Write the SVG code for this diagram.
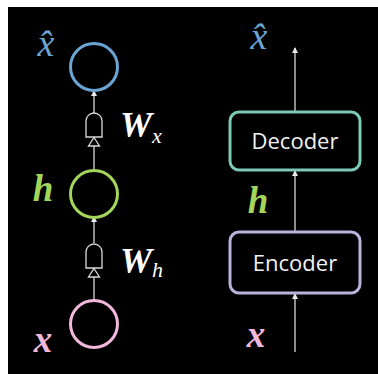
<svg xmlns="http://www.w3.org/2000/svg" width="378" height="374" viewBox="0 0 378 374">
<defs>
<style>
.bg{fill:#000}
.box{fill:#000;stroke-width:3}
.lbl{font-family:"Open Sans","Noto Sans",sans-serif;font-size:22px;fill:#f2f2f2;text-anchor:middle}
.ln{stroke:#d9d9d9;stroke-width:1.3;fill:none}
.gate{stroke:#d9d9d9;stroke-width:1.3;fill:#000}
.node{fill:none;stroke-width:3}
.m{font-family:"Liberation Serif","Times New Roman",serif;font-style:italic;text-anchor:middle}
.mb{font-family:"Liberation Serif","Times New Roman",serif;font-style:italic;font-weight:bold}
</style>
<marker id="ah" viewBox="0 0 6 6" refX="5" refY="3" markerWidth="6" markerHeight="6" markerUnits="userSpaceOnUse" orient="auto">
<path d="M0,0 L6,3 L0,6 Z" fill="#e8e8e8"/>
</marker>
</defs>
<rect x="0" y="0" width="378" height="374" fill="#fff"/>
<rect class="bg" x="8" y="7" width="370" height="367"/>

<g id="connectors">
<line class="ln" x1="94" y1="300" x2="94" y2="277"/>
<line class="ln" x1="94" y1="243" x2="94" y2="217" marker-end="url(#ah)"/>
<line class="ln" x1="94" y1="170" x2="94" y2="146"/>
<line class="ln" x1="94" y1="113" x2="94" y2="91" marker-end="url(#ah)"/>
<line class="ln" x1="295" y1="352" x2="295" y2="294" marker-end="url(#ah)"/>
<line class="ln" x1="295" y1="232" x2="295" y2="171" marker-end="url(#ah)"/>
<line class="ln" x1="295" y1="112" x2="295" y2="48" marker-end="url(#ah)"/>
</g>

<g id="gate-wx">
<path class="gate" d="M86,137 L86,121 A8,8 0 0 1 102,121 L102,137 Z"/>
<path class="gate" d="M94,137.5 L99.5,146 L88.5,146 Z"/>
</g>
<g id="gate-wh">
<path class="gate" d="M86,268 L86,252 A8,8 0 0 1 102,252 L102,268 Z"/>
<path class="gate" d="M94,268.5 L99.5,277 L88.5,277 Z"/>
</g>

<g id="node-xhat">
<circle class="node" cx="94" cy="67" r="23.5" stroke="#6aa5d3"/>
<text class="m" x="46" y="56" font-size="38" fill="#6aa5d3">x̂</text>
</g>
<g id="node-h">
<circle class="node" cx="94" cy="194" r="23.5" stroke="#a3d65a"/>
<text class="mb" x="43" y="201" font-size="37" fill="#a3d65a" text-anchor="middle">h</text>
</g>
<g id="node-x">
<circle class="node" cx="94" cy="324" r="23.5" stroke="#f2b8dc"/>
<text class="mb" x="43" y="352" font-size="37" fill="#f2b8dc" text-anchor="middle">x</text>
</g>

<g id="label-wx">
<text class="mb" x="120" y="137" font-size="36" fill="#fff">W<tspan font-weight="normal" font-size="22" dy="6">x</tspan></text>
</g>
<g id="label-wh">
<text class="mb" x="120" y="273" font-size="36" fill="#fff">W<tspan font-weight="normal" font-size="22" dy="4">h</tspan></text>
</g>

<g id="decoder">
<rect class="box" x="230" y="112" width="130" height="58" rx="9" stroke="#7ccab6"/>
<text class="lbl" x="295" y="149">Decoder</text>
</g>
<g id="encoder">
<rect class="box" x="230" y="232" width="130" height="61" rx="9" stroke="#bbb2da"/>
<text class="lbl" x="295" y="271">Encoder</text>
</g>

<g id="right-labels">
<text class="m" x="259" y="49" font-size="38" fill="#6aa5d3">x̂</text>
<text class="mb" x="258" y="213" font-size="37" fill="#a3d65a" text-anchor="middle">h</text>
<text class="mb" x="256" y="347" font-size="37" fill="#f2b8dc" text-anchor="middle">x</text>
</g>
</svg>
